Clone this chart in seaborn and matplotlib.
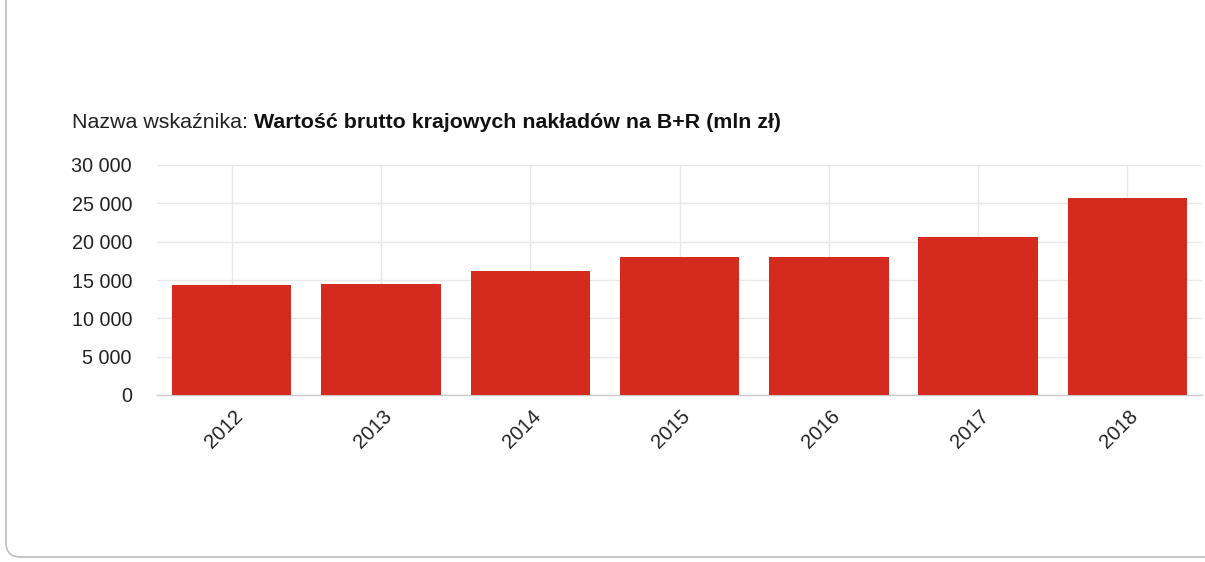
import matplotlib
matplotlib.use("Agg")
import matplotlib.pyplot as plt
import matplotlib.transforms as mtransforms
import seaborn as sns
import pandas as pd
from matplotlib.patches import FancyBboxPatch
from matplotlib.ticker import FuncFormatter, MultipleLocator

years = ["2012", "2013", "2014", "2015", "2016", "2017", "2018"]
values = [14353, 14424, 16168, 18061, 17943, 20577, 25648]
title_prefix = "Nazwa wskaźnika: "
title_main = "Wartość brutto krajowych nakładów na B+R (mln zł)"

df = pd.DataFrame({"rok": years, "wartosc": values})

sns.set_theme(style="white")
plt.rcParams["font.family"] = ["Liberation Sans", "DejaVu Sans"]

W, H = 1205, 562
fig = plt.figure(figsize=(W / 100, H / 100), dpi=100)
fig.patch.set_facecolor("white")

# rounded card border
box = FancyBboxPatch((6 / W, 5 / H), 1.2, 1.2, boxstyle="round,pad=0,rounding_size=0.012",
                     transform=fig.transFigure, facecolor="none", edgecolor="#bdbdbd",
                     linewidth=1.2, zorder=-1, mutation_aspect=W / H)
fig.patches.append(box)

ax = fig.add_axes([157 / W, 1 - 395 / H, (1202 - 157) / W, (395 - 165) / H])
ax.set_facecolor("none")
sns.barplot(data=df, x="rok", y="wartosc", color="#D52B1E", saturation=1,
            width=0.8, edgecolor="none", ax=ax, zorder=3)

ax.set_ylim(0, 30000)
ax.set_xlim(-0.5, len(years) - 0.5)
ax.yaxis.set_major_locator(MultipleLocator(5000))
ax.yaxis.set_major_formatter(FuncFormatter(lambda v, p: f"{int(v):,}".replace(",", " ")))
ax.grid(True, axis="both", color="#e8e8e8", linewidth=1, zorder=0)
ax.set_axisbelow(True)
for s in ["top", "right", "left"]:
    ax.spines[s].set_visible(False)
ax.spines["bottom"].set_color("#cccccc")
ax.spines["bottom"].set_linewidth(1)
ax.set_xlabel("")
ax.set_ylabel("")
ax.tick_params(axis="y", length=0, pad=18, labelsize=14.2, labelcolor="#222222")
ax.tick_params(axis="x", length=0, pad=13, labelsize=14.6, labelcolor="#222222")
offset = mtransforms.ScaledTranslation(8 / 100, 0, fig.dpi_scale_trans)
for lab in ax.get_xticklabels():
    lab.set_rotation(45)
    lab.set_ha("right")
    lab.set_va("center")
    lab.set_rotation_mode("anchor")
    lab.set_transform(lab.get_transform() + offset)

t1 = fig.text(72 / W, 1 - 122 / H, title_prefix, fontsize=15.4, color="#222222",
              ha="left", va="center")
fig.canvas.draw()
bb = t1.get_window_extent(renderer=fig.canvas.get_renderer())
fig.text(bb.x1 / W, 1 - 122 / H, title_main, fontsize=15.4, color="#111111",
         fontweight="bold", ha="left", va="center")

fig.savefig("out.png", dpi=100, facecolor="white")
